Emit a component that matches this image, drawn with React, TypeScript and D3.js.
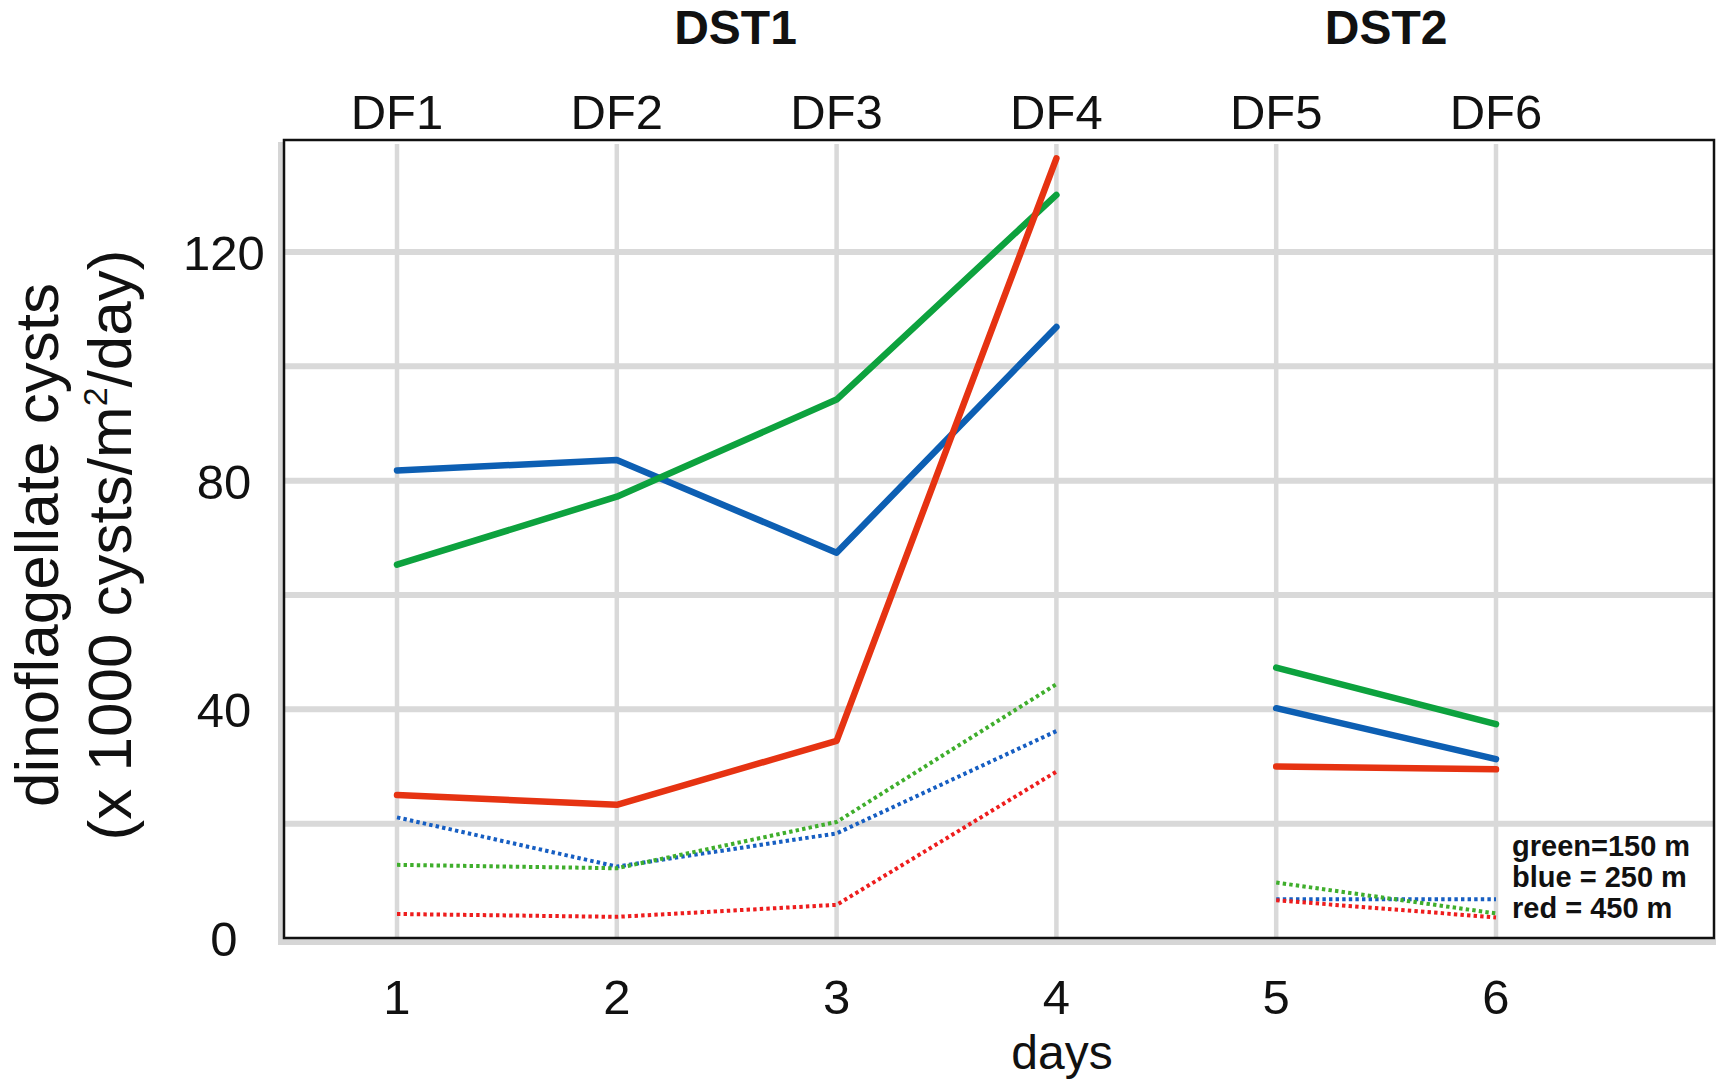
import React, { useEffect, useRef } from 'react';
import * as d3 from 'd3';

// days on the x axis, grouped into two deployments
const days = [1, 2, 3, 4, 5, 6];
const trapLabels = ['DF1', 'DF2', 'DF3', 'DF4', 'DF5', 'DF6'];
const deployments = [
  { label: 'DST1', at: 2.54 },
  { label: 'DST2', at: 5.5 },
];
const segments = [
  [0, 1, 2, 3],
  [4, 5],
];

// x 1000 cysts/m2/day, solid and dotted series per depth
const green150 = [65.3, 77.2, 94.2, 130.0, 47.3, 37.4];
const blue250 = [81.8, 83.6, 67.4, 106.9, 40.2, 31.3];
const red450 = [25.0, 23.3, 34.5, 136.4, 30.0, 29.5];
const green150Dotted = [12.8, 12.2, 20.3, 44.4, 9.7, 4.3];
const blue250Dotted = [21.1, 12.5, 18.3, 36.2, 6.8, 6.8];
const red450Dotted = [4.2, 3.7, 5.8, 29.1, 6.6, 3.6];

const gridValues = [20, 40, 60, 80, 100, 120];
const yTickLabels = [0, 40, 80, 120];
const legendLines = ['green=150 m', 'blue = 250 m', 'red = 450 m'];

const WIDTH = 1732;
const HEIGHT = 1085;
const FONT = '"Liberation Sans", Arial, Helvetica, sans-serif';

const App: React.FC = () => {
  const svgRef = useRef<SVGSVGElement>(null);

  useEffect(() => {
    const svgElement = svgRef.current;
    if (!svgElement) return;

    const svg = d3.select(svgElement);
    svg.selectAll('*').remove();

    const frame = { left: 284, right: 1714, top: 140, bottom: 938 };

    const x = d3.scaleLinear().domain([1, 6]).range([397, 1496]);
    const y = d3.scaleLinear().domain([0, 139.6]).range([frame.bottom, frame.top]);

    svg.append('rect').attr('width', WIDTH).attr('height', HEIGHT).attr('fill', '#fff');

    // grey shadow on the left and bottom of the frame
    svg
      .append('path')
      .attr('d', `M${frame.left - 3},${frame.top + 2} V${frame.bottom + 4} H${frame.right + 2}`)
      .attr('fill', 'none')
      .attr('stroke', '#d6d6d6')
      .attr('stroke-width', 6);

    // grid
    svg
      .append('g')
      .selectAll('line')
      .data(gridValues)
      .enter()
      .append('line')
      .attr('x1', frame.left)
      .attr('x2', frame.right)
      .attr('y1', d => y(d))
      .attr('y2', d => y(d))
      .attr('stroke', '#d9d9d9')
      .attr('stroke-width', 6);

    svg
      .append('g')
      .selectAll('line')
      .data(days)
      .enter()
      .append('line')
      .attr('x1', d => x(d))
      .attr('x2', d => x(d))
      .attr('y1', frame.top + 4)
      .attr('y2', frame.bottom)
      .attr('stroke', '#d9d9d9')
      .attr('stroke-width', 4.5);

    // frame
    svg
      .append('rect')
      .attr('x', frame.left)
      .attr('y', frame.top)
      .attr('width', frame.right - frame.left)
      .attr('height', frame.bottom - frame.top)
      .attr('fill', 'none')
      .attr('stroke', '#111')
      .attr('stroke-width', 2.5);

    const line = d3
      .line<number>()
      .x(i => x(days[i]))
      .y(() => 0);

    const series = [
      { values: blue250Dotted, color: '#165ec2', dotted: true },
      { values: green150Dotted, color: '#3fae2c', dotted: true },
      { values: red450Dotted, color: '#ee1d1d', dotted: true },
      { values: blue250, color: '#0d5fb3', dotted: false },
      { values: green150, color: '#0da23e', dotted: false },
      { values: red450, color: '#e63312', dotted: false },
    ];

    const lines = svg.append('g');
    series.forEach(s => {
      const path = line.y(i => y(s.values[i]));
      segments.forEach(seg => {
        lines
          .append('path')
          .attr('d', path(seg))
          .attr('fill', 'none')
          .attr('stroke', s.color)
          .attr('stroke-width', s.dotted ? 4 : 6.5)
          .attr('stroke-linejoin', 'round')
          .attr('stroke-linecap', s.dotted ? 'butt' : 'round')
          .attr('stroke-dasharray', s.dotted ? '3.4 3.2' : null);
      });
    });

    // y tick labels
    svg
      .append('g')
      .selectAll('text')
      .data(yTickLabels)
      .enter()
      .append('text')
      .attr('x', 224)
      .attr('y', d => y(d) + 18)
      .attr('text-anchor', 'middle')
      .style('font-family', FONT)
      .style('font-size', '49px')
      .attr('fill', '#111')
      .text(d => String(d));

    // x tick labels
    svg
      .append('g')
      .selectAll('text')
      .data(days)
      .enter()
      .append('text')
      .attr('x', d => x(d))
      .attr('y', 1014)
      .attr('text-anchor', 'middle')
      .style('font-family', FONT)
      .style('font-size', '49px')
      .attr('fill', '#111')
      .text(d => String(d));

    svg
      .append('text')
      .attr('x', 1062)
      .attr('y', 1069)
      .attr('text-anchor', 'middle')
      .style('font-family', FONT)
      .style('font-size', '48px')
      .attr('fill', '#111')
      .text('days');

    // trap labels on top
    svg
      .append('g')
      .selectAll('text')
      .data(trapLabels)
      .enter()
      .append('text')
      .attr('x', (_, i) => x(days[i]))
      .attr('y', 129)
      .attr('text-anchor', 'middle')
      .style('font-family', FONT)
      .style('font-size', '49px')
      .attr('fill', '#111')
      .text(d => d);

    svg
      .append('g')
      .selectAll('text')
      .data(deployments)
      .enter()
      .append('text')
      .attr('x', d => x(d.at))
      .attr('y', 44)
      .attr('text-anchor', 'middle')
      .style('font-family', FONT)
      .style('font-size', '48px')
      .style('font-weight', 'bold')
      .attr('fill', '#111')
      .text(d => d.label);

    // y axis title
    const title = svg
      .append('g')
      .style('font-family', FONT)
      .style('font-size', '62px')
      .attr('fill', '#111');

    title
      .append('text')
      .attr('transform', 'translate(58,545) rotate(-90)')
      .attr('text-anchor', 'middle')
      .text('dinoflagellate cysts');

    const t2 = title
      .append('text')
      .attr('transform', 'translate(131,545) rotate(-90)')
      .attr('text-anchor', 'middle');
    t2.append('tspan').text('(x 1000 cysts/m');
    t2.append('tspan').attr('dy', -24).style('font-size', '34px').text('2');
    t2.append('tspan').attr('dy', 24).text('/day)');

    // legend
    svg
      .append('g')
      .selectAll('text')
      .data(legendLines)
      .enter()
      .append('text')
      .attr('x', 1512)
      .attr('y', (_, i) => 856 + i * 31)
      .style('font-family', FONT)
      .style('font-size', '29px')
      .style('font-weight', 'bold')
      .attr('fill', '#111')
      .text(d => d);

    return () => {
      svg.selectAll('*').remove();
    };
  }, []);

  return (
    <svg
      ref={svgRef}
      width={WIDTH}
      height={HEIGHT}
      style={{ position: 'absolute', left: 0, top: 0, display: 'block' }}
    />
  );
};

export default App;
